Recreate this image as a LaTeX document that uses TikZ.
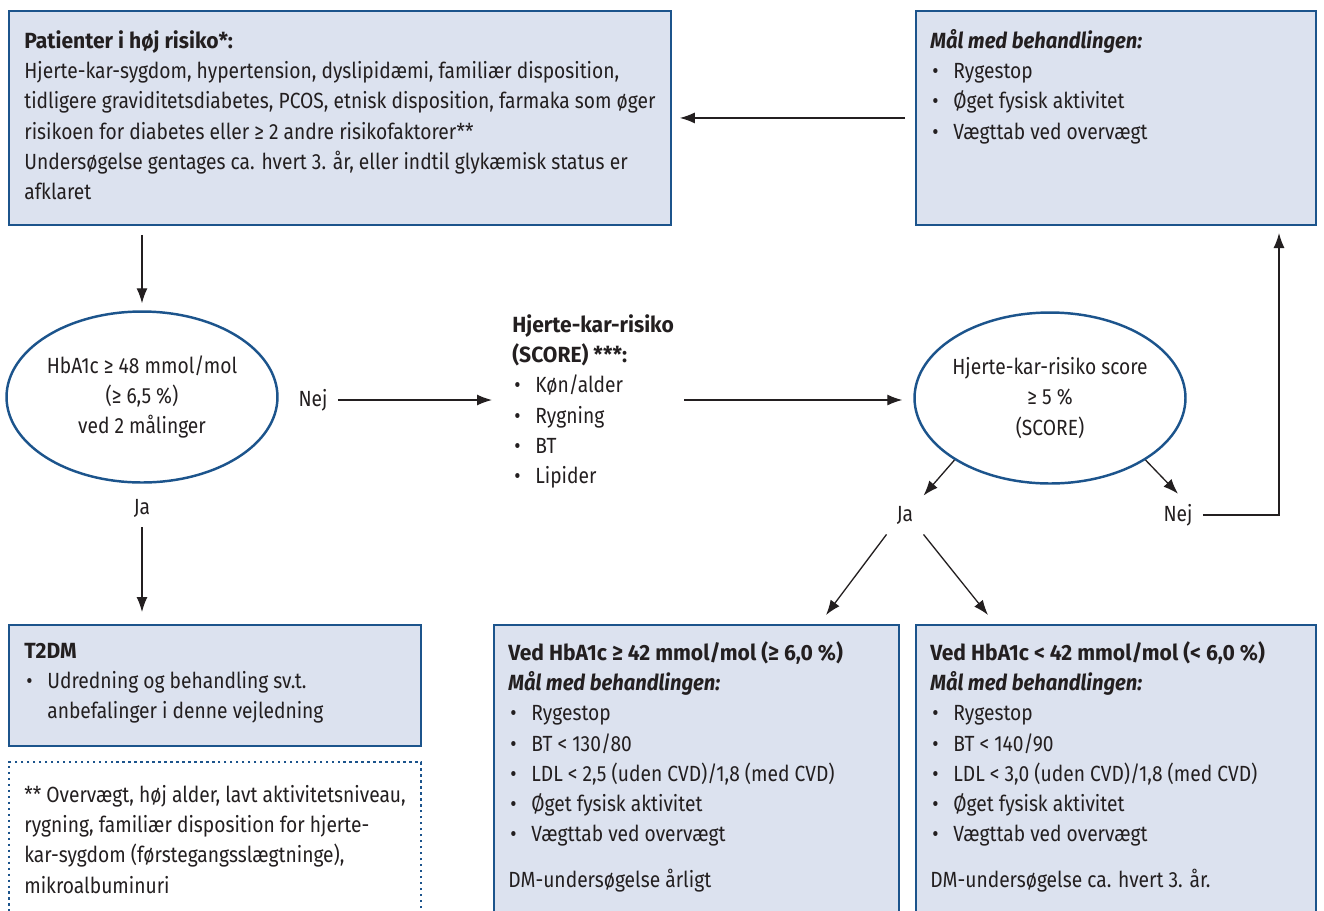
\documentclass[tikz,border=0pt]{standalone}
\usepackage{fontspec}
\setmainfont{Fira Sans}[FakeStretch=0.875,
  BoldFeatures={FakeStretch=0.96},
  BoldItalicFeatures={FakeStretch=0.92}]
\usetikzlibrary{shapes.geometric,arrows.meta,positioning}

\definecolor{boxfill}{RGB}{220,226,239}
\definecolor{boxline}{RGB}{28,84,140}
\definecolor{inktext}{RGB}{35,31,32}

\newcommand{\flowfont}{\fontsize{12.5}{17.2}\selectfont}
\newcommand{\bul}{\hspace*{0.04cm}\makebox[0.42cm][l]{\textbullet}}
\newcommand{\ind}{\hspace*{0.46cm}}

\begin{document}
\begin{tikzpicture}[x=0.02cm, y=-0.02cm, >={Latex[length=0.3cm,width=0.22cm]},
    info box/.style={draw=boxline,fill=boxfill,line width=1.1pt,anchor=north west,inner sep=0pt},
    note box/.style={draw=boxline,line width=1.4pt,dotted,anchor=north west,inner sep=0pt},
    decision/.style={ellipse,draw=boxline,line width=1.4pt,inner sep=0pt,
                     minimum width=5.42cm,minimum height=3.42cm},
    decision text/.style={align=center,inner sep=0pt,font=\flowfont,text=inktext},
    body text/.style={anchor=north west,inner sep=0pt,align=left,font=\flowfont,text=inktext},
    answer/.style={inner sep=0.2cm,font=\flowfont,text=inktext},
    flow/.style={->,line width=0.75pt,draw=inktext}]

  \clip (0,0) rectangle (1324,910);

  % boxes
  \node[info box, minimum width=13.24cm, minimum height=4.28cm] (risk) at (8,10) {};
  \node[info box, minimum width=8cm, minimum height=4.28cm] (goal) at (915,10) {};
  \node[info box, minimum width=8.24cm, minimum height=2.42cm] (t2dm) at (8,624) {};
  \node[note box, minimum width=8.24cm, minimum height=3.4cm] (note) at (8,761) {};
  \node[info box, minimum width=8.1cm, minimum height=6cm] (high) at (493,624) {};
  \node[info box, minimum width=8cm, minimum height=6cm] (low) at (915,624) {};

  % box texts
  \node[body text] (risktxt) at (24,27) {\strut\textbf{Patienter i høj risiko*:}\\
    Hjerte-kar-sygdom, hypertension, dyslipidæmi, familiær disposition,\\
    tidligere graviditetsdiabetes, PCOS, etnisk disposition, farmaka som øger\\
    risikoen for diabetes eller ≥ 2 andre risikofaktorer**\\
    Undersøgelse gentages ca. hvert 3. år, eller indtil glykæmisk status er\\
    afklaret};
  \node[body text] (goaltxt) at (930,27) {\strut\textbf{\textit{Mål med behandlingen:}}\\
    \bul Rygestop\\
    \bul Øget fysisk aktivitet\\
    \bul Vægttab ved overvægt};
  \node[body text] (score) at (512,311) {\strut\textbf{Hjerte-kar-risiko}\\
    \textbf{(SCORE) ***:}\\
    \bul Køn/alder\\
    \bul Rygning\\
    \bul BT\\
    \bul Lipider};
  \node[body text] (t2dmtxt) at (24,637) {\strut\textbf{T2DM}\\
    \bul Udredning og behandling sv.t.\\
    \ind anbefalinger i denne vejledning};
  \node[body text] (notetxt) at (24,781) {\strut** Overvægt, høj alder, lavt aktivitetsniveau,\\
    rygning, familiær disposition for hjerte-\\
    kar-sygdom (førstegangsslægtninge),\\
    mikroalbuminuri};
  \node[body text] (hightxt) at (508,639) {\strut\textbf{Ved HbA1c ≥ 42 mmol/mol (≥ 6,0 \%)}\\
    \textbf{\textit{Mål med behandlingen:}}\\
    \bul Rygestop\\
    \bul BT < 130/80\\
    \bul LDL < 2,5 (uden CVD)/1,8 (med CVD)\\
    \bul Øget fysisk aktivitet\\
    \bul Vægttab ved overvægt\\[0.31cm]
    DM-undersøgelse årligt};
  \node[body text] (lowtxt) at (930,639) {\strut\textbf{Ved HbA1c < 42 mmol/mol (< 6,0 \%)}\\
    \textbf{\textit{Mål med behandlingen:}}\\
    \bul Rygestop\\
    \bul BT < 140/90\\
    \bul LDL < 3,0 (uden CVD)/1,8 (med CVD)\\
    \bul Øget fysisk aktivitet\\
    \bul Vægttab ved overvægt\\[0.31cm]
    DM-undersøgelse ca. hvert 3. år.};

  % decisions
  \node[decision] (hba) at (142,397) {};
  \node[decision text] (hbatxt) at (hba) {HbA1c ≥ 48 mmol/mol\\(≥ 6,5 \%)\\ved 2 målinger};
  \node[decision] (scr) at (1050,398) {};
  \node[decision text] (scrtxt) at (scr) {Hjerte-kar-risiko score\\≥ 5 \%\\(SCORE)};

  \node[answer] (ja1) at (142,508) {Ja};
  \node[answer] (nej1) at (313,400) {Nej};
  \node[answer] (ja2) at (905,515) {Ja};
  \node[answer] (nej2) at (1178,515) {Nej};

  \coordinate (tipL) at (826,615);
  \coordinate (tipR) at (988,615);
  \coordinate (goalin) at (1279,233);

  % connectors
  \draw[flow, shorten <=0.18cm, shorten >=0.14cm] (risk.south -| hba.north) -- (hba.north);
  \draw[flow, shorten >=0.24cm] (ja1) -- (ja1 |- t2dm.north);
  \draw[flow, shorten >=0.4cm] (nej1) -- (nej1 -| score.west);
  \draw[flow, shorten <=0.2cm, shorten >=0.22cm] (nej1 -| score.east) -- (nej1 -| scr.west);
  \draw[flow, shorten <=0.2cm, shorten >=0.16cm] (goal.west) -- (risk.east);
  \draw[flow] (scr.213) -- (ja2.north east);
  \draw[flow] (scr.327) -- (nej2.north);
  \draw[flow] (nej2.east) -| (goalin);
  \draw[flow] (ja2.south west) -- (tipL);
  \draw[flow] (ja2.south east) -- (tipR);

\end{tikzpicture}
\end{document}
